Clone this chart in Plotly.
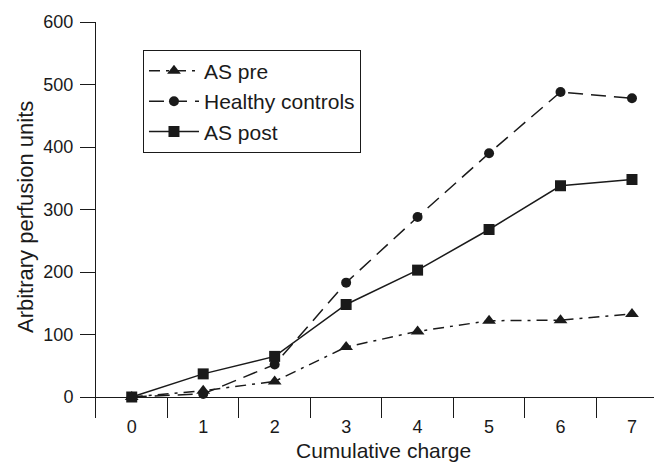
import plotly.graph_objects as go

categories = ["0", "1", "2", "3", "4", "5", "6", "7"]
as_pre = [0, 10, 25, 80, 105, 122, 123, 133]
healthy = [0, 5, 52, 183, 288, 390, 488, 478]
as_post = [0, 37, 65, 148, 203, 268, 338, 348]
y_ticks = [0, 100, 200, 300, 400, 500, 600]

FONT = "Liberation Sans, Arial, Helvetica, sans-serif"
C = "#1a1a1a"

fig = go.Figure()
fig.add_trace(go.Scatter(x=categories, y=as_pre, name="AS pre", mode="lines+markers",
                         line=dict(color=C, width=1.5, dash="11px,6px,3px,6px"),
                         marker=dict(symbol="triangle-up", size=12, color=C)))
fig.add_trace(go.Scatter(x=categories, y=healthy, name="Healthy controls", mode="lines+markers",
                         line=dict(color=C, width=1.5, dash="15px,8px"),
                         marker=dict(symbol="circle", size=10, color=C)))
fig.add_trace(go.Scatter(x=categories, y=as_post, name="AS post", mode="lines+markers",
                         line=dict(color=C, width=1.5),
                         marker=dict(symbol="square", size=11, color=C)))

fig.update_layout(
    width=654, height=456,
    margin=dict(l=88, r=0, t=14, b=46),
    paper_bgcolor="white", plot_bgcolor="white",
    font=dict(family=FONT, size=18, color=C),
    showlegend=True,
    legend=dict(x=0.083, y=0.93, xanchor="left", yanchor="top",
                bordercolor=C, borderwidth=1, bgcolor="white",
                itemwidth=50,
                font=dict(family=FONT, size=21, color=C)),
    xaxis=dict(type="category", range=[-0.5, 7.42], showgrid=False, showline=False,
               zeroline=False, tickson="boundaries", ticks="inside", ticklen=21,
               tickcolor=C, tickwidth=1, tickfont=dict(size=18),
               ticklabelstandoff=-4, automargin=False),
    yaxis=dict(range=[-33.6, 600], tickvals=y_ticks, showgrid=False, showline=True,
               linecolor=C, linewidth=1, ticks="outside", ticklen=15, tickcolor=C,
               zeroline=True, zerolinecolor=C, zerolinewidth=1,
               tickfont=dict(size=18), ticklabelstandoff=3, automargin=False),
    annotations=[
        dict(text="Cumulative charge", xref="paper", yref="paper", x=0.5, y=-0.0606,
             xshift=4, yshift=5, xanchor="center", yanchor="top", showarrow=False,
             font=dict(family=FONT, size=21, color=C)),
        dict(text="Arbitrary perfusion units", xref="paper", yref="y", x=-0.1254, y=288,
             xanchor="center", yanchor="middle", textangle=-90, showarrow=False,
             font=dict(family=FONT, size=22, color=C)),
    ],
)

fig.write_html("out.html")
